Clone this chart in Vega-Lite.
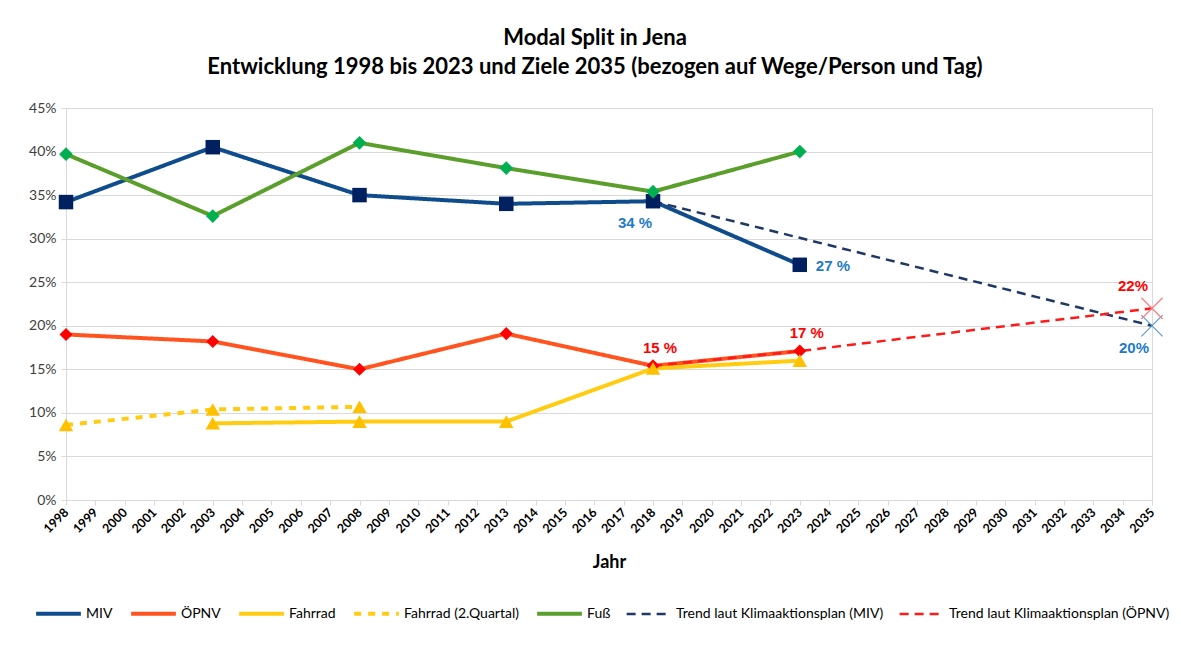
{
  "$schema": "https://vega.github.io/schema/vega-lite/v6.json",
  "width": 1086,
  "height": 392,
  "autosize": {"type": "none"},
  "padding": {"left": 66, "top": 108, "right": 29, "bottom": 164},
  "background": "white",
  "config": {
    "font": "Lato",
    "view": {"stroke": "#D9D9D9", "strokeWidth": 1}
  },
  "title": {
    "text": ["Modal Split in Jena", "Entwicklung 1998 bis 2023 und Ziele 2035 (bezogen auf Wege/Person und Tag)"],
    "font": "Lato",
    "fontSize": 22,
    "fontWeight": "bold",
    "color": "#000000",
    "anchor": "middle",
    "dx": -14,
    "offset": 22,
    "lineHeight": 29
  },
  "datasets": {
    "series": [
      {"series": "MIV", "year": 1998, "value": 34.2},
      {"series": "MIV", "year": 2003, "value": 40.5},
      {"series": "MIV", "year": 2008, "value": 35.0},
      {"series": "MIV", "year": 2013, "value": 34.0},
      {"series": "MIV", "year": 2018, "value": 34.3},
      {"series": "MIV", "year": 2023, "value": 27.0},
      {"series": "ÖPNV", "year": 1998, "value": 19.0},
      {"series": "ÖPNV", "year": 2003, "value": 18.2},
      {"series": "ÖPNV", "year": 2008, "value": 15.0},
      {"series": "ÖPNV", "year": 2013, "value": 19.1},
      {"series": "ÖPNV", "year": 2018, "value": 15.4},
      {"series": "ÖPNV", "year": 2023, "value": 17.1},
      {"series": "Fahrrad", "year": 2003, "value": 8.8},
      {"series": "Fahrrad", "year": 2008, "value": 9.0},
      {"series": "Fahrrad", "year": 2013, "value": 9.0},
      {"series": "Fahrrad", "year": 2018, "value": 15.1},
      {"series": "Fahrrad", "year": 2023, "value": 16.0},
      {"series": "Fahrrad (2.Quartal)", "year": 1998, "value": 8.6},
      {"series": "Fahrrad (2.Quartal)", "year": 2003, "value": 10.4},
      {"series": "Fahrrad (2.Quartal)", "year": 2008, "value": 10.7},
      {"series": "Fuß", "year": 1998, "value": 39.7},
      {"series": "Fuß", "year": 2003, "value": 32.6},
      {"series": "Fuß", "year": 2008, "value": 41.0},
      {"series": "Fuß", "year": 2013, "value": 38.1},
      {"series": "Fuß", "year": 2018, "value": 35.4},
      {"series": "Fuß", "year": 2023, "value": 40.0},
      {"series": "Trend laut Klimaaktionsplan (MIV)", "year": 2018, "value": 34.3},
      {"series": "Trend laut Klimaaktionsplan (MIV)", "year": 2035, "value": 20.0},
      {"series": "Trend laut Klimaaktionsplan (ÖPNV)", "year": 2018, "value": 15.4},
      {"series": "Trend laut Klimaaktionsplan (ÖPNV)", "year": 2023, "value": 17.1},
      {"series": "Trend laut Klimaaktionsplan (ÖPNV)", "year": 2035, "value": 22.0}
    ],
    "labels": [
      {"group": "below", "year": 2018, "value": 34.3, "label": "34 %"},
      {"group": "below", "year": 2035, "value": 20.0, "label": "20%"},
      {"group": "right", "year": 2023, "value": 27.0, "label": "27 %"},
      {"group": "above", "year": 2018, "value": 15.4, "label": "15 %"},
      {"group": "above", "year": 2023, "value": 17.1, "label": "17 %"},
      {"group": "aboveleft", "year": 2035, "value": 22.0, "label": "22%"}
    ]
  },
  "encoding": {
    "x": {
      "field": "year",
      "type": "quantitative",
      "scale": {"domain": [1998, 2035], "nice": false, "zero": false},
      "axis": {
        "title": "Jahr",
        "titleFont": "Lato",
        "titleFontSize": 18,
        "titleFontWeight": "bold",
        "titleColor": "#000000",
        "titlePadding": 18,
        "values": [1998,1999,2000,2001,2002,2003,2004,2005,2006,2007,2008,2009,2010,2011,2012,2013,2014,2015,2016,2017,2018,2019,2020,2021,2022,2023,2024,2025,2026,2027,2028,2029,2030,2031,2032,2033,2034,2035],
        "format": "d",
        "labelAngle": -45,
        "labelAlign": "right",
        "labelBaseline": "middle",
        "labelFont": "Lato",
        "labelFontSize": 12.5,
        "labelFontWeight": "bold",
        "labelColor": "#000000",
        "labelPadding": 5,
        "labelOverlap": false,
        "labelFlush": false,
        "grid": false,
        "domainColor": "#D9D9D9",
        "tickColor": "#D9D9D9",
        "tickSize": 5
      }
    },
    "y": {
      "field": "value",
      "type": "quantitative",
      "scale": {"domain": [0, 45], "nice": false},
      "axis": {
        "title": null,
        "values": [0, 5, 10, 15, 20, 25, 30, 35, 40, 45],
        "labelExpr": "datum.value + '%'",
        "labelFont": "Lato",
        "labelFontSize": 14,
        "labelColor": "#404040",
        "labelPadding": 5,
        "grid": true,
        "gridColor": "#D9D9D9",
        "domainColor": "#D9D9D9",
        "tickColor": "#D9D9D9",
        "tickSize": 5
      }
    }
  },
  "layer": [
    {
      "data": {"name": "series"},
      "mark": {"type": "line", "strokeCap": "butt"},
      "encoding": {
        "color": {
          "field": "series",
          "type": "nominal",
          "scale": {
            "domain": ["MIV", "ÖPNV", "Fahrrad", "Fahrrad (2.Quartal)", "Fuß", "Trend laut Klimaaktionsplan (MIV)", "Trend laut Klimaaktionsplan (ÖPNV)"],
            "range": ["#0F4C8C", "#FF5320", "#FFCC11", "#FFCC11", "#5A9E2C", "#1F3864", "#FF1A1A"]
          },
          "legend": {
            "title": null,
            "orient": "none",
            "legendX": -32,
            "legendY": 481,
            "direction": "horizontal",
            "symbolType": "stroke",
            "symbolSize": 2000,
            "symbolStrokeWidth": 4,
            "labelFont": "Lato",
            "labelFontSize": 14,
            "labelColor": "#000000",
            "labelLimit": 400,
            "labelOffset": 3,
            "columnSpacing": 12
          }
        },
        "strokeDash": {
          "field": "series",
          "type": "nominal",
          "scale": {
            "domain": ["MIV", "ÖPNV", "Fahrrad", "Fahrrad (2.Quartal)", "Fuß", "Trend laut Klimaaktionsplan (MIV)", "Trend laut Klimaaktionsplan (ÖPNV)"],
            "range": [[1, 0], [1, 0], [1, 0], [7, 7], [1, 0], [9, 6], [9, 6]]
          },
          "legend": null
        },
        "strokeWidth": {
          "field": "series",
          "type": "nominal",
          "scale": {
            "type": "ordinal",
            "domain": ["MIV", "ÖPNV", "Fahrrad", "Fahrrad (2.Quartal)", "Fuß", "Trend laut Klimaaktionsplan (MIV)", "Trend laut Klimaaktionsplan (ÖPNV)"],
            "range": [4, 4, 4, 4, 4, 2.5, 2.5]
          },
          "legend": null
        }
      }
    },
    {
      "data": {"name": "series"},
      "transform": [{"filter": "datum.series === 'MIV'"}],
      "mark": {"type": "point", "shape": "square", "filled": true, "size": 210, "color": "#002060", "opacity": 1}
    },
    {
      "data": {"name": "series"},
      "transform": [{"filter": "datum.series === 'ÖPNV'"}],
      "mark": {"type": "point", "shape": "diamond", "filled": true, "size": 170, "color": "#FF0000", "opacity": 1}
    },
    {
      "data": {"name": "series"},
      "transform": [{"filter": "datum.series === 'Fuß'"}],
      "mark": {"type": "point", "shape": "diamond", "filled": true, "size": 190, "color": "#00B050", "opacity": 1}
    },
    {
      "data": {"name": "series"},
      "transform": [{"filter": "datum.series === 'Fahrrad' || datum.series === 'Fahrrad (2.Quartal)'"}],
      "mark": {"type": "point", "shape": "triangle-up", "filled": true, "size": 210, "color": "#FFC000", "opacity": 1}
    },
    {
      "data": {"name": "series"},
      "transform": [{"filter": "datum.series === 'Trend laut Klimaaktionsplan (MIV)' && datum.year === 2035"}],
      "mark": {"type": "point", "shape": "M-1,-1L1,1M-1,1L1,-1", "filled": false, "size": 450, "strokeWidth": 1.2, "color": "#5B9BD5", "opacity": 1}
    },
    {
      "data": {"name": "series"},
      "transform": [{"filter": "datum.series === 'Trend laut Klimaaktionsplan (ÖPNV)' && datum.year === 2035"}],
      "mark": {"type": "point", "shape": "M-1,-1L1,1M-1,1L1,-1", "filled": false, "size": 450, "strokeWidth": 1.2, "color": "#FF7C80", "opacity": 1}
    },
    {
      "data": {"name": "labels"},
      "transform": [{"filter": "datum.group === 'below'"}],
      "mark": {"type": "text", "font": "Liberation Sans", "fontSize": 15, "fontWeight": "bold", "color": "#1F7BC8", "align": "center", "baseline": "middle", "dx": -18, "dy": 22},
      "encoding": {"text": {"field": "label"}}
    },
    {
      "data": {"name": "labels"},
      "transform": [{"filter": "datum.group === 'right'"}],
      "mark": {"type": "text", "font": "Liberation Sans", "fontSize": 15, "fontWeight": "bold", "color": "#1F7BC8", "align": "left", "baseline": "middle", "dx": 16, "dy": 1},
      "encoding": {"text": {"field": "label"}}
    },
    {
      "data": {"name": "labels"},
      "transform": [{"filter": "datum.group === 'above'"}],
      "mark": {"type": "text", "font": "Liberation Sans", "fontSize": 15, "fontWeight": "bold", "color": "#FF0000", "align": "center", "baseline": "middle", "dx": 7, "dy": -18},
      "encoding": {"text": {"field": "label"}}
    },
    {
      "data": {"name": "labels"},
      "transform": [{"filter": "datum.group === 'aboveleft'"}],
      "mark": {"type": "text", "font": "Liberation Sans", "fontSize": 15, "fontWeight": "bold", "color": "#FF0000", "align": "center", "baseline": "middle", "dx": -19, "dy": -22},
      "encoding": {"text": {"field": "label"}}
    }
  ]
}
